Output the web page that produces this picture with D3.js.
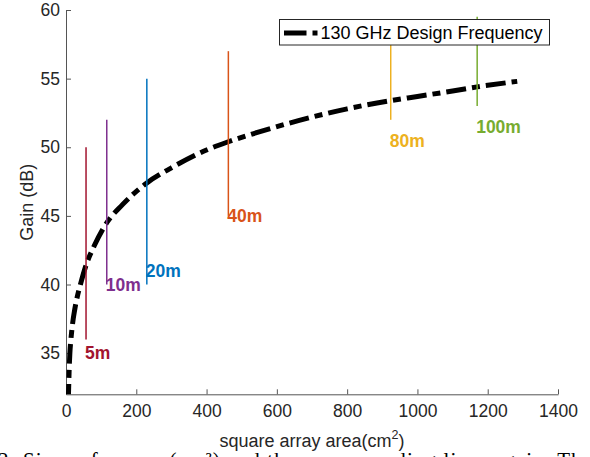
<!DOCTYPE html>
<html>
<head>
<meta charset="utf-8">
<script src="https://cdn.jsdelivr.net/npm/d3@7"></script>
<style>
  body { margin: 0; background: #fff; }
  svg { display: block; font-family: 'Liberation Sans', Arial, Helvetica, sans-serif; }
</style>
</head>
<body>
<svg id="chart" width="590" height="457"></svg>
<script>
// gain curve (area in cm^2, gain in dB)
const areaCm2 = [6, 7, 9, 11, 14, 18, 25, 32, 40, 57, 80, 116, 160, 230, 300, 400, 462, 600, 700, 800, 924, 1000, 1100, 1170, 1284];
const gainDb = [31.3, 32.0, 33.8, 35.0, 36.0, 37.0, 38.2, 39.1, 39.9, 41.4, 42.8, 44.5, 45.8, 47.4, 48.5, 49.8, 50.4, 51.5, 52.2, 52.8, 53.4, 53.7, 54.1, 54.4, 54.8];

// range markers
const rangeLabels = ['5m', '10m', '20m', '40m', '80m', '100m'];
const rangeArea = [57, 116, 230, 462, 924, 1170];
const rangeLow = [36, 40, 40, 45, 52, 53];
const rangeHigh = [50, 52, 55, 57, 59, 59.5];
const rangeLabelGain = [35, 40, 41, 45, 50.5, 51.5];

const xTicks = [0, 200, 400, 600, 800, 1000, 1200, 1400];
const yTicks = [35, 40, 45, 50, 55, 60];
const legendLabel = '130 GHz Design Frequency';

const svg = d3.select('#chart');
const margin = { top: 10, right: 32, bottom: 62.7, left: 66 };
const width = 590 - margin.left - margin.right;
const height = 457 - margin.top - margin.bottom;

const x = d3.scaleLinear().domain([0, 1400]).range([0, width]);
const y = d3.scaleLinear().domain([32, 60]).range([height, 0]);

const color = d3.scaleOrdinal()
  .domain(rangeLabels)
  .range(['#A2142F', '#7E2F8E', '#0072BD', '#D95319', '#EDB120', '#77AC30']);

const g = svg.append('g').attr('transform', `translate(${margin.left},${margin.top})`);

svg.append('defs').append('clipPath').attr('id', 'plot-clip')
  .append('rect').attr('width', width).attr('height', height);

// axes (ticks inside, like matlab)
const xAxis = g.append('g')
  .attr('transform', `translate(0,${height})`)
  .call(d3.axisBottom(x).tickValues(xTicks).tickFormat(d3.format('d'))
    .tickSize(-5).tickSizeOuter(0).tickPadding(10));
const yAxis = g.append('g')
  .call(d3.axisLeft(y).tickValues(yTicks).tickSize(-5).tickSizeOuter(0).tickPadding(6));

[xAxis, yAxis].forEach(a => {
  a.select('.domain').attr('stroke', '#555').attr('stroke-width', 1);
  a.selectAll('.tick line').attr('stroke', '#555');
  a.selectAll('.tick text')
    .attr('fill', '#262626')
    .style('font-size', '17.5px')
    .style('font-family', "'Liberation Sans', Arial, sans-serif");
});

// curve
const line = d3.line()
  .x((d, i) => x(areaCm2[i]))
  .y((d, i) => y(gainDb[i]))
  .curve(d3.curveMonotoneX);

g.append('path')
  .datum(areaCm2)
  .attr('clip-path', 'url(#plot-clip)')
  .attr('fill', 'none')
  .attr('stroke', '#000')
  .attr('stroke-width', 5)
  .attr('stroke-dasharray', '20,6,8,6')
  .attr('d', line);

// range markers
const marks = g.append('g').selectAll('g')
  .data(rangeLabels)
  .join('g');

marks.append('line')
  .attr('x1', (d, i) => x(rangeArea[i]))
  .attr('x2', (d, i) => x(rangeArea[i]))
  .attr('y1', (d, i) => y(rangeLow[i]))
  .attr('y2', (d, i) => y(rangeHigh[i]))
  .attr('stroke', d => color(d))
  .attr('stroke-width', 1.5);

marks.append('text')
  .attr('x', (d, i) => x(rangeArea[i]) - 1)
  .attr('y', (d, i) => y(rangeLabelGain[i]))
  .attr('dy', '0.36em')
  .attr('fill', d => color(d))
  .style('font-size', '17.5px')
  .style('font-weight', 'bold')
  .text(d => d);

// legend
const lg = svg.append('g').attr('transform', 'translate(279.5,19.5)');
lg.append('rect')
  .attr('width', 270)
  .attr('height', 25.5)
  .attr('fill', '#fff')
  .attr('stroke', '#262626')
  .attr('stroke-width', 1);
lg.append('line')
  .attr('x1', 4.5).attr('x2', 38.5)
  .attr('y1', 13.5).attr('y2', 13.5)
  .attr('stroke', '#000')
  .attr('stroke-width', 5)
  .attr('stroke-dasharray', '22.5,6,5,40');
lg.append('text')
  .attr('x', 41)
  .attr('y', 13.5)
  .attr('dy', '0.36em')
  .attr('fill', '#000')
  .style('font-size', '18px')
  .text(legendLabel);

// axis labels
const xl = svg.append('text')
  .attr('x', margin.left + width / 2)
  .attr('y', 447)
  .attr('text-anchor', 'middle')
  .attr('fill', '#262626')
  .style('font-size', '18px');
xl.append('tspan').text('square array area(cm');
xl.append('tspan').attr('dy', -8).style('font-size', '12.5px').text('2');
xl.append('tspan').attr('dy', 8).text(')');

svg.append('text')
  .attr('transform', `translate(33,${margin.top + height / 2}) rotate(-90)`)
  .attr('text-anchor', 'middle')
  .attr('fill', '#262626')
  .style('font-size', '18px')
  .text('Gain (dB)');

// caption cut by the bottom edge
svg.append('text')
  .attr('x', -2)
  .attr('y', 467)
  .attr('textLength', 594)
  .attr('fill', '#000')
  .style('font-family', "'Liberation Serif', 'DejaVu Serif', serif")
  .style('font-size', '21px')
  .text('2: Sizes of arrays (cm²) and the corresponding linear gain. The');
</script>
</body>
</html>
